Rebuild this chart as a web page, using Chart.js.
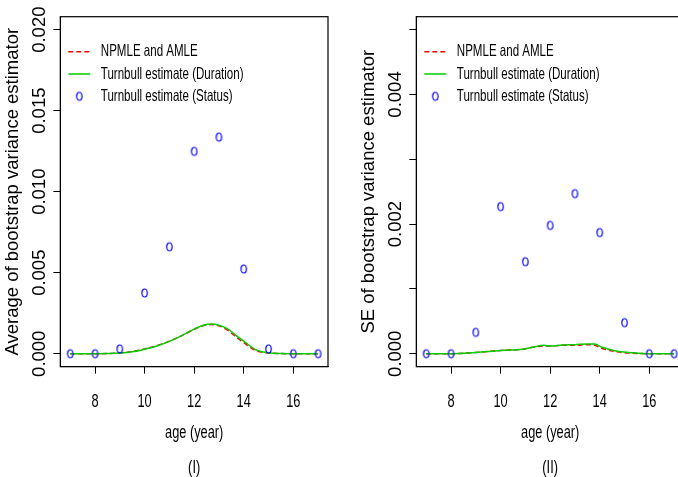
<!DOCTYPE html>
<html lang="en">
<head>
<meta charset="UTF-8">
<title>Bootstrap variance estimators</title>
<script src="https://cdn.jsdelivr.net/npm/chart.js"></script>
<style>
  html, body { margin: 0; padding: 0; background: #fff; overflow: hidden; width: 678px; height: 477px; }
  .panel { position: absolute; top: 0; width: 340px; height: 477px; }
  #panelA { left: 0; }
  #panelB { left: 356px; }
</style>
</head>
<body>
<div class="panel" id="panelA"><canvas id="chartA" width="340" height="477"></canvas></div>
<div class="panel" id="panelB"><canvas id="chartB" width="340" height="477"></canvas></div>
<script>
// ages at which the status-based Turnbull estimate is reported
const statusAges = [7, 8, 9, 10, 11, 12, 13, 14, 15, 16, 17];
const xTicks = [8, 10, 12, 14, 16];

// (I) average of the bootstrap variance estimator
const meanCurveAges = [7, 8, 8.5, 9, 9.5, 10, 10.5, 11, 11.5, 12, 12.35, 12.7, 13, 13.35, 13.7, 14, 14.5, 15, 15.5, 16, 17];
const meanNpmle    = [0, 0, 0.00001, 0.00005, 0.00013, 0.0003, 0.0005, 0.00078, 0.00112, 0.0015, 0.00172, 0.0018, 0.00172, 0.00146, 0.00102, 0.00068, 0.00019, 0.00005, 0.00001, 0, 0];
const meanDuration = [0, 0, 0.00001, 0.00004, 0.00012, 0.00028, 0.00048, 0.00076, 0.00112, 0.00152, 0.00174, 0.00183, 0.00176, 0.00154, 0.00112, 0.00078, 0.00024, 0.00006, 0.00001, 0, 0];
const meanStatus   = [0, 0, 0.0003, 0.00375, 0.0066, 0.01249, 0.01337, 0.00523, 0.0003, 0, 0];
const meanYTicks = [0, 0.005, 0.01, 0.015, 0.02];

// (II) SE of the bootstrap variance estimator
const seCurveAges = [7, 8, 9, 10, 10.9, 11.3, 11.75, 12, 12.5, 13, 13.5, 13.8, 14.1, 14.7, 15.2, 16, 17];
const seNpmle    = [0, 0, 0.00002, 0.00005, 0.00007, 0.0001, 0.00012, 0.00012, 0.00013, 0.00013, 0.00014, 0.00013, 0.00008, 0.00003, 0.00001, 0, 0];
const seDuration = [0, 0, 0.00002, 0.00005, 0.00007, 0.0001, 0.00013, 0.00012, 0.000135, 0.00014, 0.00015, 0.00015, 0.0001, 0.00004, 0.00002, 0, 0];
const seStatus   = [0, 0, 0.00033, 0.00227, 0.00142, 0.00198, 0.00247, 0.00187, 0.00048, 0, 0];
const seYTicks = [0, 0.001, 0.002, 0.003, 0.004, 0.005];
const seYLabelled = [0, 0.002, 0.004];

const SANS = "'Liberation Sans', Arial, sans-serif";

// horizontal text is squeezed sideways, like the narrow Helvetica of the original plot device
function narrowText(ctx, text, x, y, size, squeeze, align) {
  ctx.save();
  ctx.font = size + 'px ' + SANS;
  ctx.fillStyle = '#000';
  ctx.textAlign = align || 'center';
  ctx.textBaseline = 'middle';
  ctx.translate(x, y);
  ctx.scale(squeeze, 1);
  ctx.fillText(text, 0, 0);
  ctx.restore();
}

// open circle, a bit taller than wide
function ringMarker() {
  const c = document.createElement('canvas');
  c.width = 9; c.height = 12;
  const g = c.getContext('2d');
  g.strokeStyle = '#0000ff';
  g.lineWidth = 1.2;
  g.beginPath();
  g.ellipse(4.5, 6, 2.7, 4, 0, 0, Math.PI * 2);
  g.stroke();
  return c;
}
const marker = ringMarker();

const pairs = (xs, ys) => xs.map((x, i) => ({ x, y: ys[i] }));

// box around the plotting region
const frame = {
  id: 'frame',
  afterDraw(chart) {
    const { ctx, chartArea: a } = chart;
    ctx.save();
    ctx.strokeStyle = '#000';
    ctx.lineWidth = 1.2;
    ctx.strokeRect(a.left, a.top, a.right - a.left, a.bottom - a.top);
    ctx.restore();
  }
};

// tick labels, x title and panel tag
const axisText = {
  id: 'axisText',
  afterDraw(chart, args, opts) {
    const { ctx, chartArea: a } = chart;
    const sy = chart.scales.y, sx = chart.scales.x;

    ctx.save();
    ctx.font = '18.5px ' + SANS;
    ctx.fillStyle = '#000';
    ctx.textAlign = 'center';
    ctx.textBaseline = 'middle';
    sy.ticks.forEach(t => {
      if (!opts.labelled.includes(t.value)) return;
      ctx.save();
      ctx.translate(a.left - 20, sy.getPixelForValue(t.value));
      ctx.rotate(-Math.PI / 2);
      ctx.fillText(t.value.toFixed(3), 0, 0);
      ctx.restore();
    });
    ctx.restore();

    sx.ticks.forEach(t => {
      narrowText(ctx, String(t.value), sx.getPixelForValue(t.value), a.bottom + 35, 17.5, 0.73);
    });
    const mid = (a.left + a.right) / 2;
    narrowText(ctx, opts.xTitle, mid, a.bottom + 66, 17.5, 0.73);
    narrowText(ctx, opts.panel, mid, a.bottom + 101, 17.5, 0.73);
  }
};

// legend in the top left corner of the plot
const insideLegend = {
  id: 'insideLegend',
  afterDraw(chart) {
    const { ctx, chartArea: a } = chart;
    const sets = chart.data.datasets.slice().reverse();
    sets.forEach((ds, i) => {
      const y = a.top + 35 + i * 22.3;
      const x0 = a.left + 8, x1 = a.left + 30;
      ctx.save();
      if (ds.showLine === false) {
        ctx.drawImage(marker, (x0 + x1) / 2 - marker.width / 2, y - marker.height / 2);
      } else {
        ctx.strokeStyle = ds.borderColor;
        ctx.lineWidth = ds.borderWidth;
        ctx.setLineDash(ds.borderDash || []);
        ctx.beginPath();
        ctx.moveTo(x0, y);
        ctx.lineTo(x1, y);
        ctx.stroke();
      }
      ctx.restore();
      narrowText(ctx, ds.label, a.left + 40.5, y, 16.5, 0.7, 'left');
    });
  }
};

function makeChart(id, cfg) {
  return new Chart(document.getElementById(id), {
    type: 'line',
    data: {
      datasets: [
        {
          label: 'Turnbull estimate (Status)',
          data: pairs(statusAges, cfg.status),
          showLine: false,
          pointStyle: marker,
          pointRadius: 4,
          borderColor: '#0000ff',
          order: 0
        },
        {
          label: 'Turnbull estimate (Duration)',
          data: pairs(cfg.ages, cfg.duration),
          borderColor: '#00cd00',
          borderWidth: 1.5,
          pointRadius: 0,
          cubicInterpolationMode: 'monotone',
          order: 1
        },
        {
          label: 'NPMLE and AMLE',
          data: pairs(cfg.ages, cfg.npmle),
          borderColor: '#ff0000',
          borderWidth: 1.5,
          borderDash: [5, 3],
          pointRadius: 0,
          cubicInterpolationMode: 'monotone',
          order: 2
        }
      ]
    },
    options: {
      responsive: false,
      animation: false,
      events: [],
      layout: { padding: { top: 16.7, right: 12, left: 0, bottom: 0 } },
      plugins: {
        legend: { display: false },
        tooltip: { enabled: false },
        axisText: { labelled: cfg.labelled, xTitle: 'age (year)', panel: cfg.panel }
      },
      scales: {
        x: {
          type: 'linear',
          min: 6.6,
          max: 17.4,
          afterBuildTicks: s => { s.ticks = xTicks.map(v => ({ value: v })); },
          afterFit: s => { s.height = 110.3; },
          grid: { drawOnChartArea: false, drawTicks: true, tickLength: 7, color: '#000' },
          border: { color: '#000' },
          ticks: { display: false }
        },
        y: {
          type: 'linear',
          min: cfg.yMin,
          max: cfg.yMax,
          afterBuildTicks: s => { s.ticks = cfg.yTicks.map(v => ({ value: v })); },
          afterFit: s => { s.width = 60.3; },
          grid: { drawOnChartArea: false, drawTicks: true, tickLength: 7, color: '#000' },
          border: { color: '#000' },
          ticks: { display: false },
          title: {
            display: true,
            text: cfg.yTitle,
            color: '#000',
            font: { family: SANS, size: 18.5 },
            padding: { top: 2, bottom: 0 }
          }
        }
      }
    },
    plugins: [frame, axisText, insideLegend]
  });
}

makeChart('chartA', {
  panel: '(I)',
  yTitle: 'Average of bootstrap variance estimator',
  ages: meanCurveAges, npmle: meanNpmle, duration: meanDuration, status: meanStatus,
  yMin: -0.0008, yMax: 0.0208, yTicks: meanYTicks, labelled: meanYTicks
});

makeChart('chartB', {
  panel: '(II)',
  yTitle: 'SE of bootstrap variance estimator',
  ages: seCurveAges, npmle: seNpmle, duration: seDuration, status: seStatus,
  yMin: -0.0002, yMax: 0.0052, yTicks: seYTicks, labelled: seYLabelled
});
</script>
</body>
</html>
